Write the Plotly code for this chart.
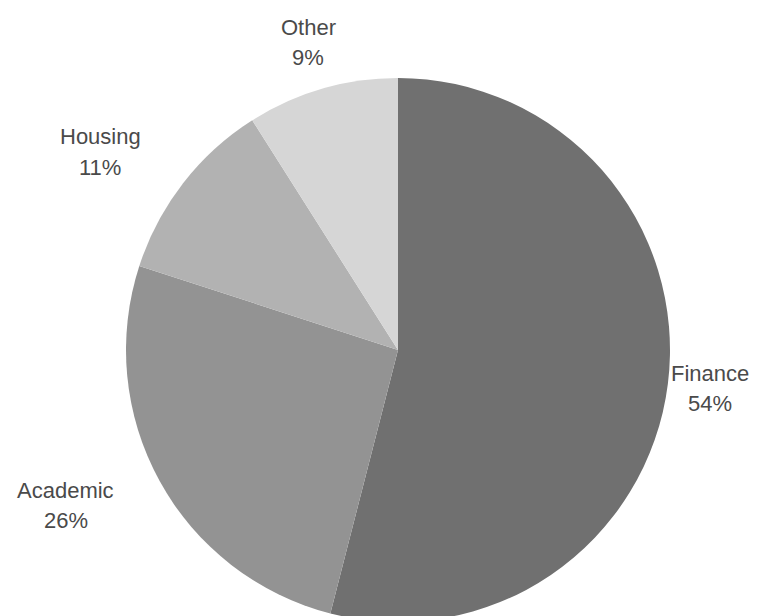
import plotly.graph_objects as go

# ---- data ----
labels = ["Finance", "Academic", "Housing", "Other"]
values = [54, 26, 11, 9]

# ---- style / layout ----
colors = ["#707070", "#939393", "#b2b2b2", "#d6d6d6"]
W, H = 759, 616
cx, cy, r = 390, 342, 272          # pie centre and radius in figure pixels
# label block centres (figure pixels), one per slice
label_xy = [(702, 380), (58, 497), (92, 144), (300, 34)]
line_gap = 30
font = dict(family="Liberation Sans, Arial, sans-serif", size=22, color="#4a4a4a")

fig = go.Figure(go.Pie(
    labels=labels,
    values=values,
    sort=False,
    direction="clockwise",
    rotation=0,
    marker=dict(colors=colors, line=dict(width=0)),
    textinfo="none",
    domain=dict(x=[(cx - r) / W, (cx + r) / W],
                y=[max(0, (H - cy - r) / H), (H - cy + r) / H]),
    showlegend=False,
    hoverinfo="label+percent",
))

total = sum(values)
annotations = []
for lab, val, (lx, ly) in zip(labels, values, label_xy):
    pct = f"{round(100 * val / total)}%"
    for txt, dy in ((lab, -line_gap / 2), (pct, line_gap / 2)):
        annotations.append(dict(
            x=lx / W, y=1 - (ly + dy) / H, xref="paper", yref="paper",
            text=txt, showarrow=False, xanchor="center", yanchor="middle",
            font=font,
        ))

fig.update_layout(
    width=W, height=H,
    margin=dict(l=0, r=0, t=0, b=0),
    paper_bgcolor="white",
    plot_bgcolor="white",
    annotations=annotations,
)

fig.write_html("out.html")
